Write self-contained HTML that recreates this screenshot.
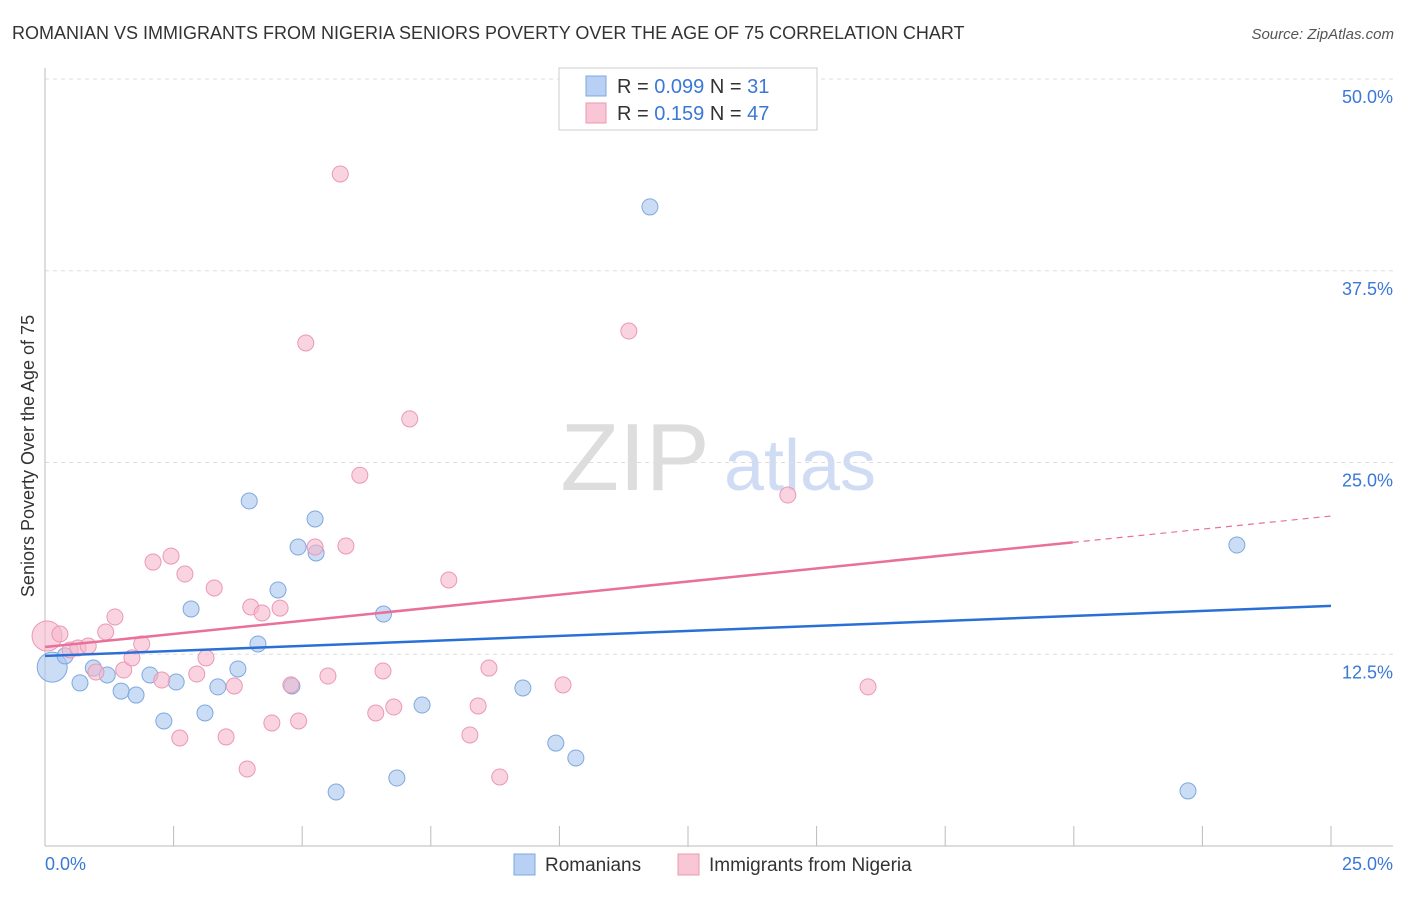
<!DOCTYPE html>
<html><head><meta charset="utf-8"><style>
body{margin:0;background:#fff;font-family:"Liberation Sans",sans-serif}
svg text{font-family:"Liberation Sans",sans-serif}
</style></head><body>
<svg id="c" width="1406" height="892">
<text x="12" y="39" font-size="18" fill="#333">ROMANIAN VS IMMIGRANTS FROM NIGERIA SENIORS POVERTY OVER THE AGE OF 75 CORRELATION CHART</text>
<text x="1394" y="39" font-size="15" fill="#555" text-anchor="end" font-style="italic">Source: ZipAtlas.com</text>
<text x="0" y="0" transform="translate(34,456) rotate(-90)" font-size="18" fill="#333" text-anchor="middle">Seniors Poverty Over the Age of 75</text>
<g><text x="635" y="490" font-size="96" fill="#ddd" font-family="Liberation Serif" text-anchor="middle">ZIP</text><text x="800" y="490" font-size="72" fill="#cfdcf3" text-anchor="middle">atlas</text></g>
<g id="grid"></g><g id="axes"></g><g id="marks"></g>
<g>
<rect x="559" y="68" width="258" height="62" fill="#fff" stroke="#ccc"/>
<rect x="586" y="76" width="20" height="20" fill="#b7d0f3" stroke="#7ea8e0"/>
<rect x="586" y="103" width="20" height="20" fill="#f9c6d5" stroke="#eb98b3"/>
<text x="617" y="93" font-size="20" fill="#333">R = <tspan fill="#3a78d8">0.099</tspan>   N = <tspan fill="#3a78d8"> 31</tspan></text>
<text x="617" y="120" font-size="20" fill="#333">R =  <tspan fill="#3a78d8">0.159</tspan>   N = <tspan fill="#3a78d8">47</tspan></text>
</g>
<g>
<rect x="514" y="854" width="21" height="21" fill="#b7d0f3" stroke="#7ea8e0"/>
<text x="545" y="871" font-size="19" fill="#333">Romanians</text>
<rect x="678" y="854" width="21" height="21" fill="#f9c6d5" stroke="#eb98b3"/>
<text x="709" y="871" font-size="19" fill="#333">Immigrants from Nigeria</text>
</g>
</svg>
<script>
const yTicks=[12.5,25,37.5,50];
const yTickLabels=["12.5%","25.0%","37.5%","50.0%"];
const xTickLabels=["0.0%","25.0%"];
const blueX=[0.14,0.39,0.68,0.94,1.21,1.48,1.77,2.04,2.31,2.55,2.84,3.11,3.36,3.75,3.97,4.14,4.53,4.80,4.92,5.25,5.27,5.66,6.58,6.84,7.33,9.29,9.93,10.32,11.76,22.22,23.17];
const blueY=[11.66,12.39,10.63,11.60,11.15,10.10,9.84,11.15,8.15,10.69,15.45,8.67,10.37,11.54,22.49,13.17,16.69,10.43,19.49,21.32,19.10,3.52,15.12,4.43,9.19,10.30,6.71,5.74,41.66,3.59,19.62];
const pinkX=[0.04,0.29,0.49,0.64,0.84,0.99,1.18,1.36,1.53,1.69,1.88,2.10,2.27,2.45,2.62,2.72,2.95,3.13,3.29,3.52,3.68,3.93,4.00,4.22,4.41,4.57,4.78,4.93,5.07,5.25,5.50,5.74,5.85,6.12,6.43,6.57,6.78,7.09,7.85,8.26,8.42,8.63,8.84,10.07,11.35,14.44,16.00];
const pinkY=[13.69,13.82,12.78,12.91,13.04,11.34,13.95,14.93,11.47,12.26,13.17,18.51,10.82,18.90,7.04,17.73,11.21,12.26,16.82,7.11,10.43,5.02,15.58,15.19,8.02,15.51,10.50,8.15,32.79,19.49,11.08,43.81,19.56,24.17,8.67,11.41,9.06,27.84,17.34,7.24,9.13,11.60,4.50,10.50,33.57,22.88,10.37];
const trendBlue=[12.39,15.65];
const trendPink=[12.97,21.51];
const pinkSolidEnd=19.98;
const X=v=>45+v/25*1286, Y=v=>846-v/50*767;
const NS="http://www.w3.org/2000/svg";
function mk(p,t,a){const e=document.createElementNS(NS,t);for(const k in a)e.setAttribute(k,a[k]);p.appendChild(e);return e;}
const grid=document.getElementById('grid'),axes=document.getElementById('axes'),marks=document.getElementById('marks');
yTicks.forEach((t,i)=>{
 const l=mk(grid,'line',{x1:45,x2:1393,y1:Y(t),y2:Y(t),stroke:'#ddd','stroke-dasharray':'4,4'});
 
 
 const tx=mk(grid,'text',{x:1393,y:Y(t)+24,'font-size':18,fill:'#3a78d8','text-anchor':'end'});tx.textContent=yTickLabels[i];
 
 
});
const ax=mk(axes,'line',{x1:45,x2:1393,y1:846,y2:846,stroke:'#bbb'});


const ay=mk(axes,'line',{x1:45,x2:45,y1:68,y2:846,stroke:'#bbb'});


for(let i=0;i<=10;i++){const v=i*2.5;const t=mk(axes,'line',{x1:X(v),x2:X(v),y1:826,y2:846,stroke:'#bbb'});
 
 }
[[0,'start',45],[25,'end',1393]].forEach((d,i)=>{const t=mk(axes,'text',{x:d[2],y:870,'font-size':18,fill:'#3a78d8','text-anchor':d[1]});t.textContent=xTickLabels[i];
 
 });
function pts(xs,ys,fill,stroke,name){xs.forEach((x,i)=>{const c=mk(marks,'circle',{cx:X(x),cy:Y(ys[i]),r:i==0?15:8,fill:fill,'fill-opacity':0.6,stroke:stroke});
 
 });}
pts(blueX,blueY,'#a9c6ef','#7ea8e0','point-romanians');
pts(pinkX,pinkY,'#f5b8cb','#eb98b3','point-nigeria');
const bl=mk(marks,'line',{x1:X(0),y1:Y(trendBlue[0]),x2:X(25),y2:Y(trendBlue[1]),stroke:'#2a6fd6','stroke-width':2.5});


const pe=trendPink[0]+(trendPink[1]-trendPink[0])*pinkSolidEnd/25;
const pl=mk(marks,'line',{x1:X(0),y1:Y(trendPink[0]),x2:X(pinkSolidEnd),y2:Y(pe),stroke:'#e8709a','stroke-width':2.5});


const pd=mk(marks,'line',{x1:X(pinkSolidEnd),y1:Y(pe),x2:X(25),y2:Y(trendPink[1]),stroke:'#e8709a','stroke-width':1.2,'stroke-dasharray':'6,5'});


</script>
</body></html>
